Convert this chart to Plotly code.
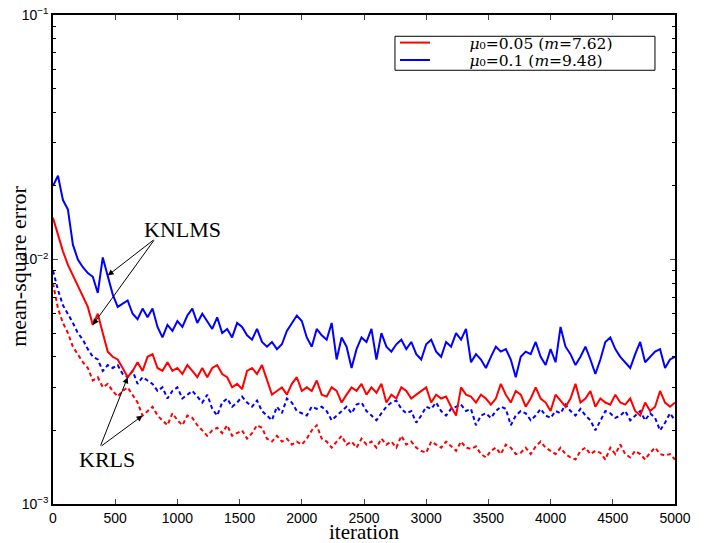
import math
import plotly.graph_objects as go

# sampling positions (iteration index)
iterations = list(range(0, 5001, 40))

# values, in units of 1e-3
knlms_mu01 = [
    20, 22, 17.5, 16, 11.5, 10.0, 9.3, 8.8, 8.5, 7.3,
    10.2, 8.6, 7.2, 6.4, 6.6, 6.8, 6.0, 5.7, 6.3, 5.8,
    6.3, 5.3, 4.8, 5.4, 5.1, 5.6, 5.3, 5.9, 6.3, 5.5,
    6.0, 5.6, 5.2, 5.8, 5.0, 5.2, 4.8, 5.5, 5.3, 4.9,
    4.7, 5.2, 4.6, 4.4, 4.6, 4.3, 4.5, 5.1, 5.5, 5.9,
    5.6, 4.8, 4.4, 5.2, 4.9, 4.7, 5.5, 3.9, 4.8, 4.4,
    3.6, 4.3, 4.8, 4.6, 5.2, 3.9, 5.0, 4.4, 4.2, 4.5,
    4.7, 4.3, 4.6, 4.1, 3.9, 4.5, 4.7, 4.2, 4.0, 4.6,
    4.4, 5.0, 4.7, 5.2, 3.8, 4.1, 3.9, 3.6, 4.0, 4.4,
    4.2, 4.3, 3.9, 3.3, 4.0, 4.2, 4.1, 4.6, 4.0, 3.7,
    4.3, 3.8, 5.3, 4.4, 4.1, 3.7, 4.0, 4.4, 3.9, 3.4,
    3.9, 4.6, 4.8, 4.3, 4.0, 3.8, 3.6, 4.1, 4.6, 3.8,
    4.0, 4.2, 4.3, 3.6, 3.9, 4.0,
]
knlms_mu005 = [
    14.8, 12.5, 10.8, 9.5, 8.6, 7.8, 7.0, 6.4, 5.4, 6.0,
    5.0, 4.2, 4.0, 3.9, 3.6, 3.3, 3.5, 3.8, 3.5, 4.0,
    4.1, 3.6, 3.5, 3.8, 3.5, 3.6, 3.4, 3.7, 3.5, 3.3,
    3.6, 3.3, 3.6, 3.7, 3.4, 3.3, 3.0, 3.1, 2.95, 3.5,
    3.6, 3.4, 3.7, 3.2, 2.8, 2.9, 3.0, 2.8, 3.1, 3.3,
    2.9, 3.0, 2.9, 3.2, 2.8, 2.75, 3.0, 2.9, 2.6, 2.8,
    3.0, 2.9, 3.1, 2.8, 3.0, 2.85, 3.1, 2.6, 2.8, 2.7,
    3.0, 2.9, 2.7, 2.8, 2.9, 3.0, 2.6, 2.8, 2.7, 2.75,
    2.5, 2.3, 3.0, 2.8, 2.75, 2.6, 2.8, 2.7, 2.55, 2.7,
    3.1, 2.8, 2.6, 2.9, 2.8, 2.5, 2.7, 3.0, 2.7, 2.6,
    2.4, 2.8, 2.65, 2.5, 2.7, 3.1, 2.6, 2.7, 2.9, 2.5,
    2.7, 2.6, 2.55, 2.8, 2.6, 2.55, 2.7, 2.4, 2.3, 2.6,
    2.4, 2.5, 2.9, 2.6, 2.5, 2.6,
]
krls_mu01 = [
    9.0, 7.5, 6.5, 6.0, 5.5, 5.0, 4.7, 4.3, 4.0, 3.9,
    3.5, 3.7, 3.6, 3.7, 3.4, 3.3, 3.5, 3.1, 3.3, 3.2,
    3.1, 2.9, 3.0, 2.7, 2.9, 3.0, 2.7, 2.8, 2.9, 2.75,
    2.6, 2.8, 2.45, 2.3, 2.6, 2.7, 2.5, 2.6, 2.75, 2.6,
    2.5, 2.65, 2.4, 2.3, 2.2, 2.5, 2.35, 2.7, 2.6, 2.4,
    2.35, 2.3, 2.5, 2.45, 2.5, 2.4, 2.2, 2.3, 2.4, 2.5,
    2.35, 2.55, 2.6, 2.4, 2.3, 2.2, 2.35, 2.5, 2.6, 2.65,
    2.45, 2.35, 2.4, 2.15, 2.3, 2.5, 2.45, 2.6, 2.4, 2.3,
    2.45, 2.5, 2.55, 2.4, 2.45, 2.1, 2.3, 2.35, 2.25, 2.4,
    2.5, 2.45, 2.1, 2.3, 2.4, 2.35, 2.2, 2.3, 2.45, 2.3,
    2.25, 2.4, 2.35, 2.55, 2.4, 2.3, 2.45, 2.3, 2.2, 2.0,
    2.2, 2.4, 2.35, 2.25, 2.3, 2.4, 2.2, 2.3, 2.4, 2.2,
    2.35, 2.25, 2.0, 2.15, 2.35, 2.2,
]
krls_mu005 = [
    8.0, 6.3, 5.5, 5.0, 4.4, 4.1, 3.8, 3.6, 3.2, 3.3,
    3.0, 3.1, 2.9, 2.75, 2.9, 3.0, 2.8, 2.6, 2.3, 2.4,
    2.5, 2.3, 2.2, 2.1, 2.35, 2.2, 2.1, 2.3, 2.25, 2.1,
    2.0, 1.9, 2.0, 2.05, 1.95, 2.1, 1.9, 1.95, 2.0, 1.85,
    1.95, 2.1, 2.05, 1.85, 1.8, 1.9, 1.8, 1.85, 1.75, 1.8,
    1.75, 1.85, 2.0, 2.1, 1.85, 1.8, 1.7, 1.8, 1.9, 1.75,
    1.8, 1.7, 1.85, 1.75, 1.8, 1.7, 1.85, 1.75, 1.8, 1.7,
    1.9, 1.75, 1.8, 1.7, 1.65, 1.62, 1.8, 1.75, 1.7, 1.8,
    1.72, 1.65, 1.8, 1.7, 1.68, 1.72, 1.6, 1.55, 1.65, 1.7,
    1.6, 1.75, 1.7, 1.6, 1.62, 1.7, 1.6, 1.72, 1.8, 1.7,
    1.65, 1.6, 1.7, 1.6, 1.55, 1.52, 1.65, 1.7, 1.6, 1.65,
    1.62, 1.52, 1.7, 1.6, 1.75, 1.6, 1.55, 1.65, 1.6, 1.52,
    1.62, 1.7, 1.6, 1.58, 1.6, 1.52,
]
UNIT = 1e-3

legend_labels = ["<i>μ</i>₀=0.05 (<i>m</i>=7.62)",
                 "<i>μ</i>₀=0.1 (<i>m</i>=9.48)"]
x_ticks = [0, 500, 1000, 1500, 2000, 2500, 3000, 3500, 4000, 4500, 5000]
y_ticks = [1e-3, 1e-2, 1e-1]
y_ticktext = ["10<sup>−3</sup>", "10<sup>−2</sup>", "10<sup>−1</sup>"]
y_minor = [k * 10.0 ** e for e in (-3, -2) for k in range(2, 10)]


def sc(vals):
    return [v * UNIT for v in vals]


RED = "#ff0000"
BLUE = "#0000ff"
lead = "&nbsp;" * 7

fig = go.Figure()
fig.add_trace(go.Scatter(x=iterations, y=sc(krls_mu005), mode="lines",
                         line=dict(color=RED, width=2, dash="4px,3px"), showlegend=False))
fig.add_trace(go.Scatter(x=iterations, y=sc(krls_mu01), mode="lines",
                         line=dict(color=BLUE, width=2, dash="4px,3px"), showlegend=False))
fig.add_trace(go.Scatter(x=iterations, y=sc(knlms_mu005), mode="lines", legend="legend",
                         line=dict(color=RED, width=2), name=lead + legend_labels[0]))
fig.add_trace(go.Scatter(x=iterations, y=sc(knlms_mu01), mode="lines", legend="legend2",
                         line=dict(color=BLUE, width=2), name=lead + legend_labels[1]))

serif = "Liberation Serif, Times New Roman, serif"
sans = "Liberation Sans, Arial, sans-serif"


def lg(v):
    return math.log10(v)


knlms_tail = (820, lg(0.01215))
krls_tail = (378, lg(0.00171))
heads = [
    (iterations[11], knlms_mu01[11] * UNIT, knlms_tail),
    (iterations[8], knlms_mu005[8] * UNIT, knlms_tail),
    (iterations[15], krls_mu01[15] * UNIT, krls_tail),
    (iterations[18], krls_mu005[18] * UNIT, krls_tail),
]
annotations = []
for hx, hy, (tx, ty) in heads:
    annotations.append(dict(x=hx, y=lg(hy), ax=tx, ay=ty, axref="x", ayref="y",
                            xref="x", yref="y", text="", showarrow=True,
                            arrowhead=2, arrowsize=1.2, arrowwidth=1, arrowcolor="black"))
annotations.append(dict(x=1037, y=lg(0.0133), xref="x", yref="y", text="KNLMS",
                        showarrow=False, font=dict(family=serif, size=22, color="black")))
annotations.append(dict(x=434, y=lg(0.00152), xref="x", yref="y", text="KRLS",
                        showarrow=False, font=dict(family=serif, size=22, color="black")))
# axis titles
annotations.append(dict(x=0.5, y=-0.058, xref="paper", yref="paper", text="iteration",
                        showarrow=False, xanchor="center", yanchor="middle",
                        font=dict(family=serif, size=21, color="black")))
annotations.append(dict(x=-0.0555, y=0.486, xref="paper", yref="paper", text="mean-square error",
                        showarrow=False, xanchor="center", yanchor="middle", textangle=-90,
                        font=dict(family=serif, size=22, color="black")))

# legend frame (paper coordinates of the plot area)
legend_box = dict(x0=0.5498, x1=0.9678, y0=0.887, y1=0.9565)
legend_style = dict(xanchor="left", yanchor="top", bgcolor="rgba(0,0,0,0)", borderwidth=0,
                    font=dict(family="DejaVu Serif, serif", size=15.5, color="black"),
                    itemwidth=30, tracegroupgap=0)

fig.update_layout(
    width=706, height=543,
    margin=dict(l=53, r=31, t=15, b=39),
    paper_bgcolor="white", plot_bgcolor="white",
    showlegend=True,
    legend=dict(x=legend_box["x0"], y=0.9775, **legend_style),
    legend2=dict(x=legend_box["x0"], y=0.942, **legend_style),
    shapes=[dict(type="rect", xref="paper", yref="paper", layer="above",
                 fillcolor="white", line=dict(color="black", width=1), **legend_box)],
    annotations=annotations,
)
fig.update_xaxes(
    range=[0, 5000], tickvals=x_ticks, ticks="inside", ticklen=5,
    showline=True, linecolor="black", linewidth=1.5, mirror="ticks",
    showgrid=False, zeroline=False, automargin=False,
    tickfont=dict(family=sans, size=14, color="black"),
)
fig.update_yaxes(
    type="log", range=[-3, -1], tickvals=y_ticks, ticktext=y_ticktext,
    ticks="inside", ticklen=5,
    minor=dict(tickvals=y_minor, ticks="inside", ticklen=3, tickcolor="black", showgrid=False),
    showline=True, linecolor="black", linewidth=1.5, mirror="allticks",
    showgrid=False, zeroline=False, automargin=False,
    tickfont=dict(family=sans, size=14, color="black"),
)

# the page body has a default 8px margin; remove it so the figure fills the window
fig.write_html("out.html", config={"displayModeBar": False},
               post_script="document.body.style.margin='0';")
